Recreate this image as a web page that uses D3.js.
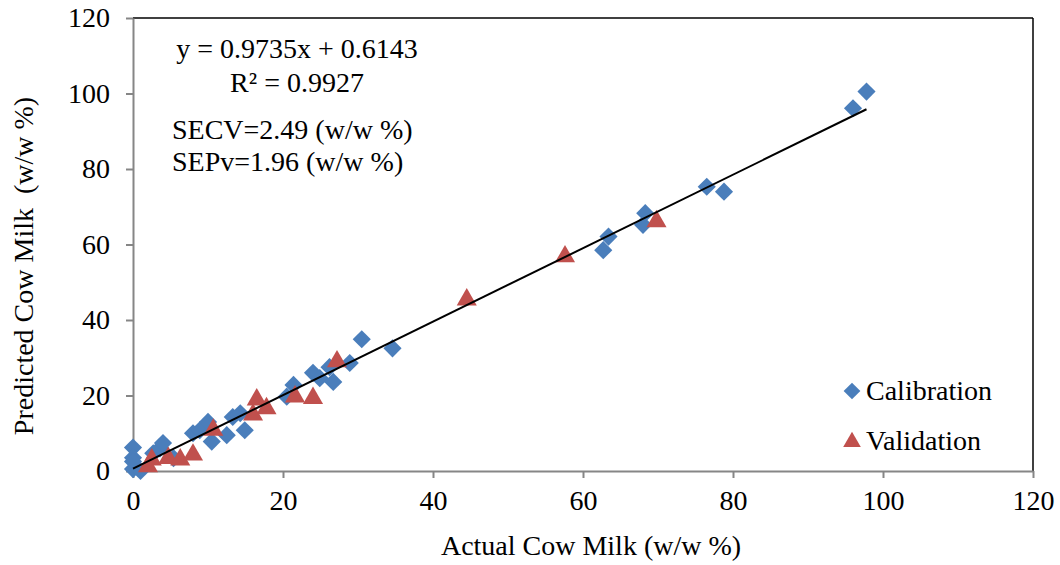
<!DOCTYPE html>
<html>
<head>
<meta charset="utf-8">
<title>Predicted vs Actual Cow Milk</title>
<script src="https://d3js.org/d3.v7.min.js"></script>
<style>
  body { margin: 0; background: #fff; }
  text { font-family: "Liberation Serif", "Times New Roman", serif; fill: #000; }
</style>
</head>
<body>
<script>
// calibration samples [actual, predicted]
const calibration = [
  [0, 6.2], [0, 3.5], [0, 2.5], [0, 0.5], [1, 0], [2.7, 4.7], [3.6, 6], [4, 7.4],
  [5.4, 3.4], [8, 10], [8.9, 10.8], [10, 13], [10.5, 7.8], [12.5, 9.5], [13.3, 14.3],
  [14.3, 15.3], [14.9, 10.8], [20.5, 19.7], [21.4, 22.8], [24, 26], [24.9, 24.6],
  [26.7, 23.6], [26.2, 27.5], [28.9, 28.6], [30.5, 34.9], [34.6, 32.5], [62.7, 58.5],
  [63.4, 62.1], [68, 65.2], [68.3, 68.3], [76.5, 75.3], [78.8, 74], [96, 96.1], [97.8, 100.5]
]
// validation samples [actual, predicted]
const validation = [
  [2, 1.6], [2.5, 3.4], [4.7, 3.8], [6.3, 3.4], [8, 4.7], [10.7, 11.3], [16, 15.3],
  [16.5, 19.3], [17.8, 17], [21.6, 20.1], [24, 19.7], [27.2, 29.4], [44.5, 45.8],
  [57.6, 57.2], [69.8, 66.5]
]
const slope = 0.9735, intercept = 0.6143
const fitRange = [0, 97.8]
const xTicks = [0, 20, 40, 60, 80, 100, 120]
const yTicks = [0, 20, 40, 60, 80, 100, 120]
const notes = ["y = 0.9735x + 0.6143", "R² = 0.9927", "SECV=2.49 (w/w %)", "SEPv=1.96 (w/w %)"]

const W = 1060, H = 565
const pLeft = 133, pRight = 1033, pTop = 18, pBottom = 471
const blue = "#4a7ebb", red = "#c0504d", gray = "#868686"

const svg = d3.select("body").append("svg")
  .attr("width", W).attr("height", H)

const x = d3.scaleLinear().domain([0, 120]).range([pLeft, pRight])
const y = d3.scaleLinear().domain([0, 120]).range([pBottom, pTop])

// frame: top and right black
svg.append("line").attr("x1", pLeft).attr("x2", pRight).attr("y1", pTop).attr("y2", pTop)
  .attr("stroke", "#000").attr("stroke-width", 1.5)
svg.append("line").attr("x1", pRight).attr("x2", pRight).attr("y1", pTop).attr("y2", pBottom)
  .attr("stroke", "#000").attr("stroke-width", 1.5)

const xAxis = svg.append("g").attr("transform", `translate(0,${pBottom})`)
  .call(d3.axisBottom(x).tickValues(xTicks).tickSize(7).tickPadding(12).tickSizeOuter(0))
const yAxis = svg.append("g").attr("transform", `translate(${pLeft},0)`)
  .call(d3.axisLeft(y).tickValues(yTicks).tickSize(7).tickPadding(16).tickSizeOuter(0))

for (const g of [xAxis, yAxis]) {
  g.attr("font-family", "Liberation Serif")
  g.select(".domain").attr("stroke", gray).attr("stroke-width", 2)
  g.selectAll(".tick line").attr("stroke", gray).attr("stroke-width", 2)
  g.selectAll(".tick text").attr("font-size", 28).attr("fill", "#000")
}
xAxis.selectAll(".tick text").attr("dy", "0.71em")

svg.append("text").attr("x", 591).attr("y", 555).attr("text-anchor", "middle")
  .attr("font-size", 28).text("Actual Cow Milk (w/w %)")
svg.append("text").attr("transform", "translate(33,266) rotate(-90)").attr("text-anchor", "middle")
  .attr("font-size", 28).style("white-space", "pre")
  .text("Predicted Cow Milk  (w/w %)")

const diamond = d3.symbol().type(d3.symbolSquare).size(165)
const triangle = d3.symbol().type(d3.symbolTriangle).size(175)

svg.append("g").selectAll("path").data(calibration).enter().append("path")
  .attr("d", diamond)
  .attr("transform", d => `translate(${x(d[0])},${y(d[1])}) rotate(45)`)
  .attr("fill", blue)

svg.append("g").selectAll("path").data(validation).enter().append("path")
  .attr("d", triangle)
  .attr("transform", d => `translate(${x(d[0])},${y(d[1]) + 1.5})`)
  .attr("fill", red)

svg.append("line")
  .attr("x1", x(fitRange[0])).attr("y1", y(slope * fitRange[0] + intercept))
  .attr("x2", x(fitRange[1])).attr("y2", y(slope * fitRange[1] + intercept))
  .attr("stroke", "#000").attr("stroke-width", 2)

// annotation
svg.append("text").attr("x", 297).attr("y", 58).attr("text-anchor", "middle").attr("font-size", 28).text(notes[0])
svg.append("text").attr("x", 297).attr("y", 92).attr("text-anchor", "middle").attr("font-size", 28).text(notes[1])
svg.append("text").attr("x", 172).attr("y", 139).attr("font-size", 28).text(notes[2])
svg.append("text").attr("x", 172).attr("y", 171).attr("font-size", 28).text(notes[3])

// legend
const legend = svg.append("g")
legend.append("path").attr("d", d3.symbol().type(d3.symbolSquare).size(140))
  .attr("transform", "translate(852,391) rotate(45)").attr("fill", blue)
legend.append("text").attr("x", 866).attr("y", 400).attr("font-size", 28).text("Calibration")
legend.append("path").attr("d", d3.symbol().type(d3.symbolTriangle).size(135))
  .attr("transform", "translate(852,442)").attr("fill", red)
legend.append("text").attr("x", 866).attr("y", 450).attr("font-size", 28).text("Validation")
</script>
</body>
</html>
